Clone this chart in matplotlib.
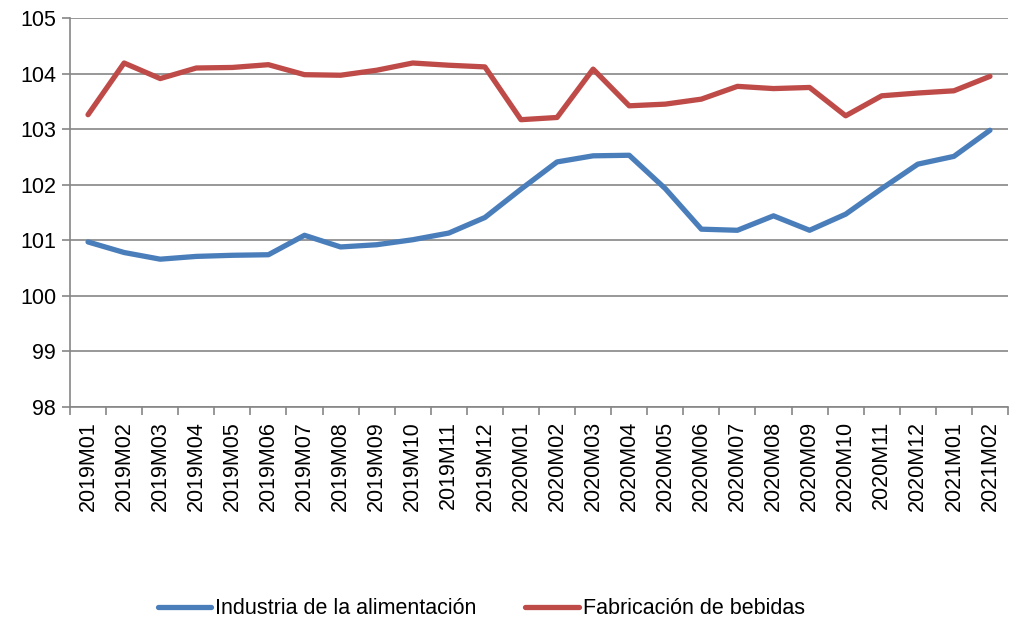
import matplotlib.pyplot as plt
import numpy as np

months = [
    "2019M01", "2019M02", "2019M03", "2019M04", "2019M05", "2019M06",
    "2019M07", "2019M08", "2019M09", "2019M10", "2019M11", "2019M12",
    "2020M01", "2020M02", "2020M03", "2020M04", "2020M05", "2020M06",
    "2020M07", "2020M08", "2020M09", "2020M10", "2020M11", "2020M12",
    "2021M01", "2021M02",
]
alimentacion = [
    100.97, 100.78, 100.66, 100.71, 100.73, 100.74, 101.09, 100.88, 100.92,
    101.01, 101.13, 101.41, 101.92, 102.41, 102.52, 102.53, 101.93, 101.20,
    101.18, 101.44, 101.18, 101.47, 101.93, 102.37, 102.51, 102.98,
]
bebidas = [
    103.26, 104.19, 103.91, 104.10, 104.11, 104.16, 103.98, 103.97, 104.06,
    104.19, 104.15, 104.12, 103.17, 103.21, 104.08, 103.42, 103.45, 103.54,
    103.77, 103.73, 103.75, 103.24, 103.60, 103.65, 103.69, 103.95,
]

plt.rcParams["font.family"] = ["Liberation Sans", "DejaVu Sans"]
grid_color = "#868686"

fig = plt.figure(figsize=(10.17, 6.23), dpi=100)
ax = fig.add_axes([70 / 1017, 1 - 407 / 623, 938 / 1017, 389 / 623])

x = np.arange(len(months))
ax.plot(x, alimentacion, color="#4a7ebb", lw=3.8, solid_capstyle="round",
        label="Industria de la alimentación")
ax.plot(x, bebidas, color="#be4b48", lw=3.8, solid_capstyle="round",
        label="Fabricación de bebidas")

ax.set_xlim(-0.5, len(months) - 0.5)
ax.set_ylim(98, 105)
ax.set_yticks(range(98, 106))
ax.yaxis.grid(True, color=grid_color, lw=1.2)
ax.set_axisbelow(True)

ax.set_xticks(x)
ax.set_xticklabels(months, rotation=90, fontsize=15.5)
ax.set_xticks(np.arange(-0.5, len(months)), minor=True)
ax.tick_params(axis="x", which="major", length=0, pad=10)
ax.tick_params(axis="x", which="minor", length=6, color=grid_color, width=1.2)
ax.tick_params(axis="y", length=6, color=grid_color, width=1.2, labelsize=15.5, pad=4)

for side in ["top", "right"]:
    ax.spines[side].set_visible(False)
for side in ["left", "bottom"]:
    ax.spines[side].set_color(grid_color)
    ax.spines[side].set_linewidth(1.2)

fig.legend(loc="center", bbox_to_anchor=(0.473, 1 - 609 / 623), ncol=2,
           frameon=False, fontsize=15.5, handlelength=2.5, handletextpad=0.15,
           columnspacing=2.3)

fig.savefig("out.png", dpi=100)
